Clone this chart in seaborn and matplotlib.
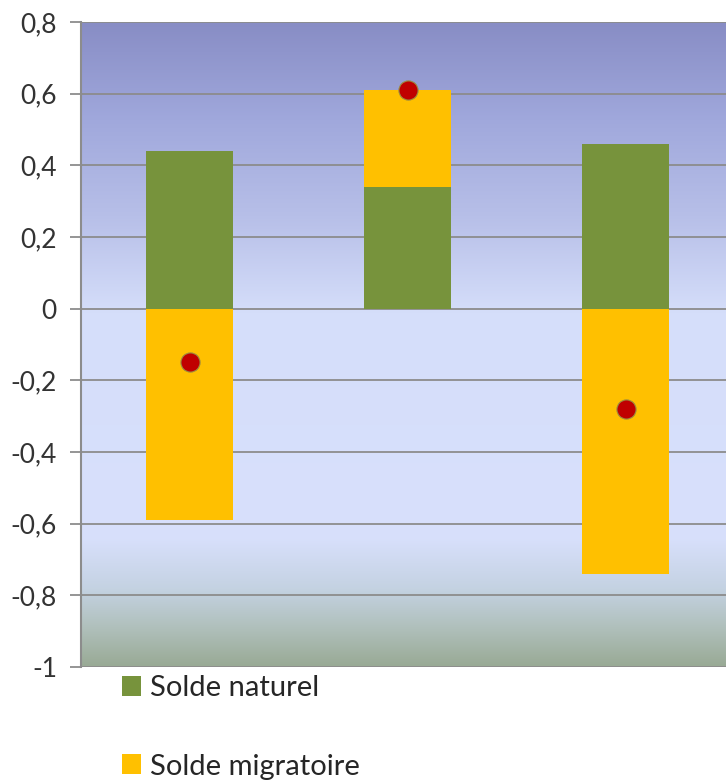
import numpy as np
import pandas as pd
import matplotlib
matplotlib.use("Agg")
import matplotlib.pyplot as plt
from matplotlib.colors import LinearSegmentedColormap
from matplotlib.patches import Patch
import seaborn as sns

categories = ["P1", "P2", "P3"]
solde_naturel = [0.44, 0.34, 0.46]
solde_migratoire = [-0.59, 0.27, -0.74]
variation_totale = [-0.15, 0.61, -0.28]
yticks = [-1, -0.8, -0.6, -0.4, -0.2, 0, 0.2, 0.4, 0.6, 0.8]
ytick_labels = ["-1", "-0,8", "-0,6", "-0,4", "-0,2", "0", "0,2", "0,4", "0,6", "0,8"]

GREEN = "#77933c"
ORANGE = "#ffc000"
RED = "#c00000"
GRID = "#8c8c8c"

sns.set_style("white")
plt.rcParams["font.family"] = ["Lato", "DejaVu Sans"]

df = pd.DataFrame({
    "cat": categories,
    "nat": solde_naturel,
    "mig": solde_migratoire,
    "tot": variation_totale,
})
# orange bar extent: stacked on green when positive, from zero when negative
df["mig_top"] = [n + m if m > 0 else m for n, m in zip(df["nat"], df["mig"])]

fig = plt.figure(figsize=(7.26, 7.80), dpi=100)
ax = fig.add_axes([80.5 / 726, 113 / 780, 1 - 80.5 / 726, 645 / 780])

# gradient background
cmap = LinearSegmentedColormap.from_list(
    "bg",
    [(0.0, "#99aa95"), (0.06, "#b0c0bc"), (0.12, "#c4d2e2"), (0.2, "#d8e0fc"),
     (0.55, "#d5defa"), (0.7, "#b7bfe8"), (0.85, "#a0a8dc"), (1.0, "#888dc5")],
)
grad = np.linspace(0, 1, 256).reshape(-1, 1)
ax.imshow(grad, aspect="auto", cmap=cmap, origin="lower",
          extent=(-0.5, 2.461, -1, 0.8), zorder=0)

sns.barplot(data=df, x="cat", y="mig_top", color=ORANGE, width=0.4,
            saturation=1, ax=ax, zorder=3, linewidth=0)
sns.barplot(data=df, x="cat", y="nat", color=GREEN, width=0.4,
            saturation=1, ax=ax, zorder=4, linewidth=0)
sns.scatterplot(data=df, x="cat", y="tot", color=RED, s=190,
                edgecolor="#9a8a40", linewidth=0.8, ax=ax, zorder=5)

ax.set_xlim(-0.5, 2.461)
ax.set_ylim(-1, 0.8)
ax.set_yticks(yticks)
ax.set_yticklabels(ytick_labels, fontsize=19, color="#333333")
ax.set_xticks([])
ax.set_xlabel("")
ax.set_ylabel("")
ax.yaxis.grid(True, color=GRID, linewidth=1.3, zorder=1)
for line in ax.get_ygridlines():
    line.set_zorder(1)
ax.tick_params(axis="y", direction="out", length=8, width=1.3, color=GRID, pad=9, left=True)
for s in ["top", "right", "bottom"]:
    ax.spines[s].set_visible(False)
ax.spines["left"].set_color(GRID)
ax.spines["left"].set_linewidth(1.5)

handles = [Patch(facecolor=GREEN, edgecolor="none"), Patch(facecolor=ORANGE, edgecolor="none")]
leg = fig.legend(handles, ["Solde naturel", "Solde migratoire"], loc="upper left",
                 bbox_to_anchor=(122 / 726, 1 - 675 / 780), frameon=False, fontsize=21,
                 handlelength=0.66, handleheight=0.66, handletextpad=0.3, labelspacing=1.8,
                 borderpad=0, borderaxespad=0)
for t in leg.get_texts():
    t.set_color("#262626")

fig.savefig("out.png", dpi=100)
